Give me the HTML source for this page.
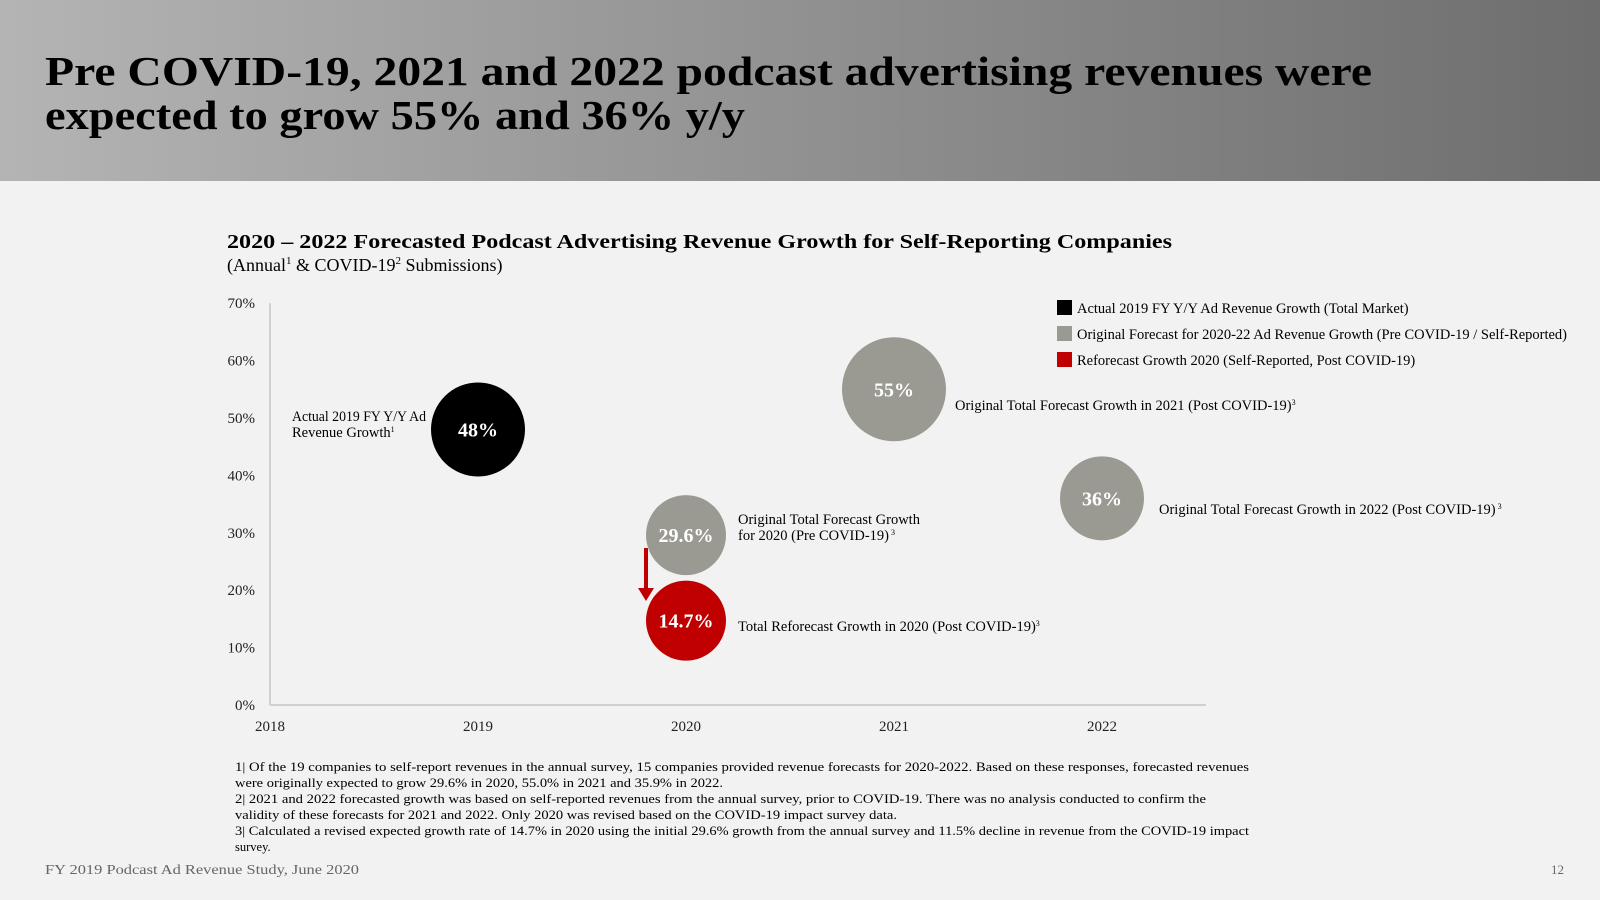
<!DOCTYPE html>
<html><head><meta charset="utf-8"><style>
html,body{margin:0;padding:0;width:1600px;height:900px;overflow:hidden;background:#f2f2f2}
svg{display:block;font-family:"Liberation Serif",serif}
</style></head><body>
<svg id="chart" width="1600" height="900" viewBox="0 0 1600 900" xmlns="http://www.w3.org/2000/svg">
<defs><linearGradient id="hg" x1="0" x2="1" y1="0" y2="0"><stop offset="0" stop-color="#b4b4b4"/><stop offset="1" stop-color="#6e6e6e"/></linearGradient></defs>
<rect x="0" y="0" width="1600" height="181" fill="url(#hg)"/>
<g font-weight="bold" font-size="41" fill="#000">
<text x="45" y="85" textLength="1327" lengthAdjust="spacingAndGlyphs">Pre COVID-19, 2021 and 2022 podcast advertising revenues were</text>
<text x="45" y="129" textLength="700" lengthAdjust="spacingAndGlyphs">expected to grow 55% and 36% y/y</text>
</g>
<text x="227" y="248" font-size="20" font-weight="bold" textLength="945" lengthAdjust="spacingAndGlyphs">2020 – 2022 Forecasted Podcast Advertising Revenue Growth for Self-Reporting Companies</text>
<text x="227" y="271" font-size="18">(Annual<tspan font-size="11" dy="-7">1</tspan><tspan dy="7"> &amp; COVID-19</tspan><tspan font-size="11" dy="-7">2</tspan><tspan dy="7"> Submissions)</tspan></text>
<g id="axes"></g>
<g id="marks"></g>
<g font-size="14.5">
<rect x="1057" y="300" width="15" height="15" fill="#000"/>
<text x="1077" y="313">Actual 2019 FY Y/Y Ad Revenue Growth (Total Market)</text>
<rect x="1057" y="326" width="15" height="15" fill="#9a9a93"/>
<text x="1077" y="339" textLength="490" lengthAdjust="spacingAndGlyphs">Original Forecast for 2020-22 Ad Revenue Growth (Pre COVID-19 / Self-Reported)</text>
<rect x="1057" y="352" width="15" height="15" fill="#c00000"/>
<text x="1077" y="365">Reforecast Growth 2020 (Self-Reported, Post COVID-19)</text>
</g>
<g font-size="14.5">
<text x="292" y="421" textLength="134" lengthAdjust="spacingAndGlyphs">Actual 2019 FY Y/Y Ad</text>
<text x="292" y="437">Revenue Growth<tspan font-size="8" dy="-5">1</tspan></text>
<text x="955" y="410">Original Total Forecast Growth in 2021 (Post COVID-19)<tspan font-size="8" dy="-5">3</tspan></text>
<text x="1159" y="514">Original Total Forecast Growth in 2022 (Post COVID-19)<tspan font-size="8" dy="-5"> 3</tspan></text>
<text x="738" y="524">Original Total Forecast Growth</text>
<text x="738" y="540">for  2020 (Pre COVID-19)<tspan font-size="8" dy="-5"> 3</tspan></text>
<text x="738" y="631">Total Reforecast Growth in 2020 (Post COVID-19)<tspan font-size="8" dy="-5">3</tspan></text>
</g>
<g font-size="12.5">
<text x="235" y="771" textLength="1014" lengthAdjust="spacingAndGlyphs">1| Of the 19 companies to self-report revenues in the annual survey, 15 companies provided revenue forecasts for 2020-2022. Based on these responses,  forecasted revenues</text>
<text x="235" y="787" textLength="488" lengthAdjust="spacingAndGlyphs">were originally expected to grow 29.6% in 2020, 55.0% in 2021 and 35.9% in 2022.</text>
<text x="235" y="803" textLength="971" lengthAdjust="spacingAndGlyphs">2| 2021 and 2022 forecasted growth was based on self-reported revenues from the annual survey, prior to COVID-19. There was no analysis conducted to confirm the</text>
<text x="235" y="819" textLength="662" lengthAdjust="spacingAndGlyphs">validity of these forecasts for 2021 and 2022. Only 2020 was revised based on the COVID-19 impact survey data.</text>
<text x="235" y="835" textLength="1014" lengthAdjust="spacingAndGlyphs">3| Calculated a revised expected growth rate of 14.7% in 2020 using the initial 29.6% growth from the annual survey and 11.5% decline in revenue from the COVID-19 impact</text>
<text x="235" y="851">survey.</text>
</g>
<text x="45" y="874" font-size="14" fill="#666" textLength="314" lengthAdjust="spacingAndGlyphs">FY 2019 Podcast Ad Revenue Study, June 2020</text>
<text x="1564" y="874" font-size="13" fill="#666" text-anchor="end">12</text>
</svg>
<script>
const yTicks = [0,10,20,30,40,50,60,70];
const xTicks = [2018,2019,2020,2021,2022];
const bubbleYears = [2019,2021,2022,2020,2020];
const bubbleValues = [48,55,36,29.6,14.7];
const bubbleLabels = ["48%","55%","36%","29.6%","14.7%"];
const bubbleSizes = [47,52,42,40,40];
const bubbleSeries = ["actual","original","original","original","reforecast"];
const colors = {actual:"#000",original:"#9a9a93",reforecast:"#c00000"};
const NS="http://www.w3.org/2000/svg";
const x = y => 270 + (y-2018)*208;
const yS = v => 705 - v*5.74;
function mk(tag, attrs, parent){const e=document.createElementNS(NS,tag);for(const k in attrs)e.setAttribute(k,attrs[k]);parent.appendChild(e);return e;}
const axes=document.getElementById('axes'), marks=document.getElementById('marks');
let l=mk('line',{x1:270,y1:yS(70),x2:270,y2:yS(0),stroke:'#d0d0d0','stroke-width':2},axes);


l=mk('line',{x1:270,y1:yS(0),x2:1206,y2:yS(0),stroke:'#d0d0d0','stroke-width':2},axes);


yTicks.forEach(v=>{const t=mk('text',{x:255,y:yS(v)+5,'font-size':15,'text-anchor':'end',fill:'#222'},axes);t.textContent=v+'%';

});
xTicks.forEach(v=>{const t=mk('text',{x:x(v),y:731,'font-size':15,'text-anchor':'middle',fill:'#222'},axes);t.textContent=v;

});
bubbleValues.forEach((v,i)=>{
const cx=x(bubbleYears[i]), cy=yS(v);
const c=mk('circle',{cx:cx,cy:cy,r:bubbleSizes[i],fill:colors[bubbleSeries[i]]},marks);


const t=mk('text',{x:cx,y:cy+7,'font-size':20,'font-weight':'bold','text-anchor':'middle',fill:'#fff'},marks);t.textContent=bubbleLabels[i];


});
const ax=x(2020)-40;
const g=mk('g',{},marks);


mk('rect',{x:ax-2,y:548,width:4,height:42,fill:'#c00000'},g);
mk('polygon',{points:`${ax-8},588 ${ax+8},588 ${ax},601`,fill:'#c00000'},g);
</script>
</body></html>
